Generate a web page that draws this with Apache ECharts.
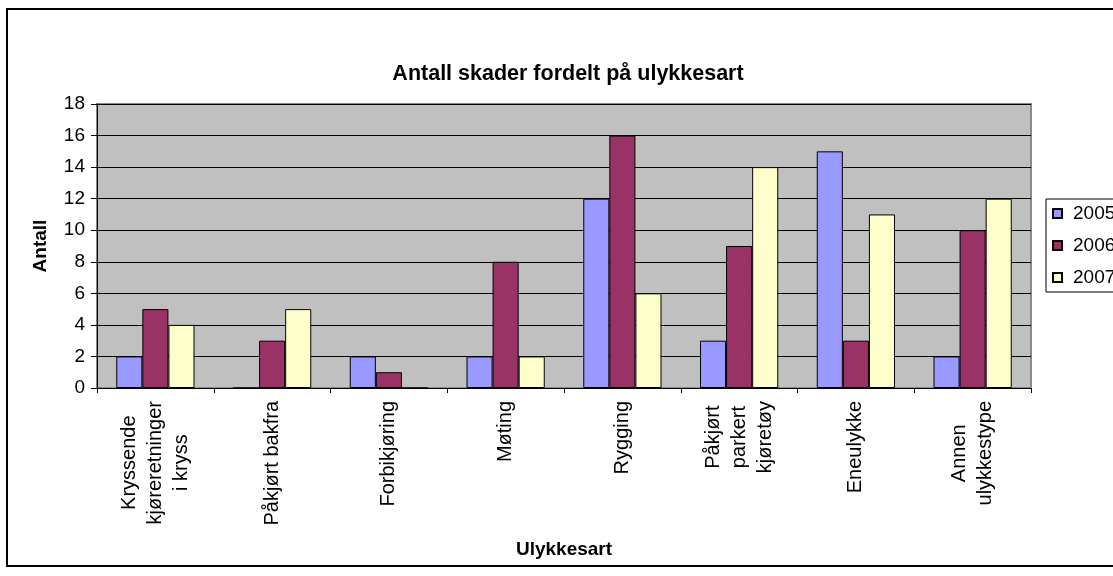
<!DOCTYPE html>
<html>
<head>
<meta charset="utf-8">
<script src="https://cdn.jsdelivr.net/npm/echarts@6/dist/echarts.min.js"></script>
<style>
  html, body { margin: 0; padding: 0; background: #fff; }
  #chart { width: 1113px; height: 576px; }
</style>
</head>
<body>
<div id="chart"></div>
<script>
const categories = [
  'Kryssende\nkjøreretninger\ni kryss',
  'Påkjørt bakfra',
  'Forbikjøring',
  'Møting',
  'Rygging',
  'Påkjørt\nparkert\nkjøretøy',
  'Eneulykke',
  'Annen\nulykkestype'
];
const seriesNames = ['2005', '2006', '2007'];
const values2005 = [2, 0, 2, 2, 12, 3, 15, 2];
const values2006 = [5, 3, 1, 8, 16, 9, 3, 10];
const values2007 = [4, 5, 0, 2, 6, 14, 11, 12];
const yMin = 0, yMax = 18, yStep = 2;

const FONT = "'Liberation Sans', Arial, sans-serif";
const colors = ['#9999FF', '#993366', '#FFFFCC'];
const seriesValues = [values2005, values2006, values2007];

const chart = echarts.init(document.getElementById('chart'));
chart.setOption({
  animation: false,
  backgroundColor: '#ffffff',
  textStyle: { fontFamily: FONT, color: '#000' },
  graphic: [{
    type: 'rect',
    shape: { x: 7, y: 9, width: 1200, height: 557 },
    style: { fill: 'none', stroke: '#000', lineWidth: 2 },
    silent: true,
    z: -10
  }],
  title: {
    text: 'Antall skader fordelt på ulykkesart',
    left: 563,
    textAlign: 'center',
    top: 58,
    textStyle: { fontFamily: FONT, fontSize: 21.5, fontWeight: 'bold', color: '#000' }
  },
  legend: {
    orient: 'vertical',
    left: 1046,
    top: 199,
    padding: [5, 10, 5, 6],
    itemGap: 13,
    itemWidth: 9,
    itemHeight: 9,
    icon: 'rect',
    borderColor: '#000',
    borderWidth: 1,
    backgroundColor: '#fff',
    textStyle: { fontFamily: FONT, fontSize: 19, color: '#000', padding: [0, 0, 0, 6] },
    data: seriesNames
  },
  grid: {
    left: 97, right: 82, top: 104, bottom: 188,
    show: true,
    backgroundColor: '#C0C0C0',
    borderColor: '#8a8a8a',
    borderWidth: 2
  },
  xAxis: {
    type: 'category',
    data: categories,
    name: 'Ulykkesart',
    nameLocation: 'middle',
    nameGap: 152,
    nameTextStyle: { fontFamily: FONT, fontSize: 19, fontWeight: 'bold', color: '#000' },
    axisLine: { show: true, lineStyle: { color: '#000', width: 1 } },
    axisTick: { show: true, length: 5, lineStyle: { color: '#000' } },
    axisLabel: {
      interval: 0,
      rotate: 90,
      margin: 13,
      color: '#000',
      formatter: function (v) {
        return v.split('\n').map(function (s) { return '{c|' + s + '}'; }).join('\n');
      },
      rich: {
        c: { fontFamily: FONT, fontSize: 20, lineHeight: 26, align: 'center', color: '#000' }
      }
    }
  },
  yAxis: {
    type: 'value',
    min: yMin, max: yMax, interval: yStep,
    name: 'Antall',
    nameLocation: 'middle',
    nameGap: 47,
    nameTextStyle: { fontFamily: FONT, fontSize: 19, fontWeight: 'bold', color: '#000' },
    axisLine: { show: true, lineStyle: { color: '#000', width: 1 } },
    axisTick: { show: true, length: 6, lineStyle: { color: '#000' } },
    axisLabel: { margin: 12, fontFamily: FONT, fontSize: 19, color: '#000' },
    splitLine: { show: true, lineStyle: { color: '#000', width: 1 } }
  },
  series: seriesNames.map(function (name, i) {
    return {
      name: name,
      type: 'bar',
      data: seriesValues[i],
      barGap: '0%',
      barCategoryGap: '33%',
      itemStyle: { color: colors[i], borderColor: '#000', borderWidth: 1 }
    };
  })
});
</script>
</body>
</html>
